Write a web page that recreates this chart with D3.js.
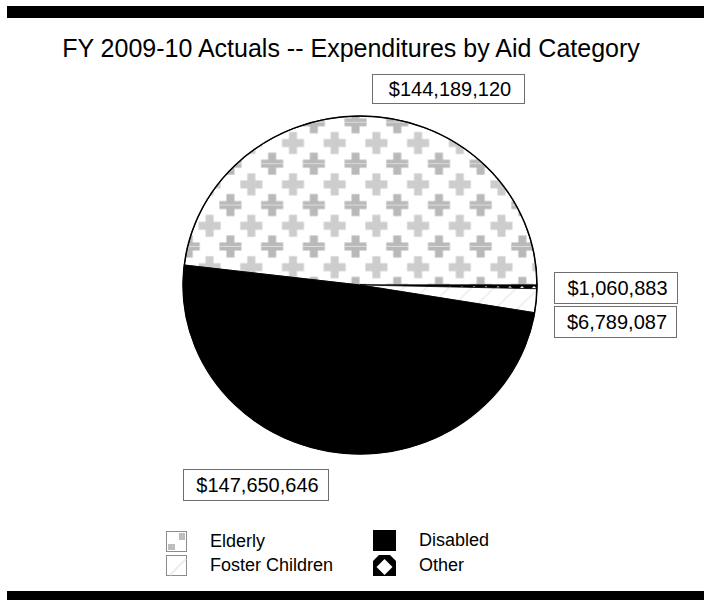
<!DOCTYPE html>
<html>
<head>
<meta charset="utf-8">
<script src="https://cdn.jsdelivr.net/npm/d3@7"></script>
<style>
  html, body { margin: 0; padding: 0; background: #fff; }
  svg { display: block; font-family: Arial, "Liberation Sans", sans-serif; }
</style>
</head>
<body>
<svg id="chart" width="704" height="600"></svg>
<script>
// Expenditures by aid category, FY 2009-10 actuals (dollars)
const categories = ["Elderly", "Other", "Foster Children", "Disabled"];
const values = [144189120, 1060883, 6789087, 147650646];
const legendOrder = ["Elderly", "Foster Children", "Disabled", "Other"];
const titleText = "FY 2009-10 Actuals -- Expenditures by Aid Category";

const svg = d3.select("#chart");
const W = 704, H = 600;

// Pie geometry (drawn slightly flattened)
const cx = 360, cy = 285, R = 177, RY = 169;
const squash = RY / R;

// ---------- patterns ----------
const defs = svg.append("defs");

// Elderly: staggered grey crosses on white
const tileW = 41.7, tileH = 41.4;
const crossSize = 22, arm = 8;
const pEld = defs.append("pattern")
  .attr("id", "pat-elderly")
  .attr("patternUnits", "userSpaceOnUse")
  .attr("width", tileW).attr("height", tileH)
  .attr("x", -77.4).attr("y", -152.35)
  .attr("patternTransform", `scale(1,${1 / squash})`);
pEld.append("rect").attr("width", tileW).attr("height", tileH).attr("fill", "#fff");
function addCross(p, x, y, color, stripe) {
  const h = crossSize / 2, a = arm / 2;
  // draw wrapped copies so crosses on the tile edge stay whole
  for (const dx of [-tileW, 0, tileW]) {
    for (const dy of [-tileH, 0, tileH]) {
      p.append("rect").attr("x", x + dx - h).attr("y", y + dy - a).attr("width", crossSize).attr("height", arm).attr("fill", color);
      p.append("rect").attr("x", x + dx - a).attr("y", y + dy - h).attr("width", arm).attr("height", crossSize).attr("fill", color);
      if (stripe) {
        p.append("rect").attr("x", x + dx - h).attr("y", y + dy - 0.6).attr("width", crossSize).attr("height", 1).attr("fill", stripe);
      }
    }
  }
}
addCross(pEld, 10.4, 10.35, "#cdcdcd", null);
addCross(pEld, 31.25, 31.05, "#b9b9b9", "#dedede");

// Foster Children: faint diagonal hatching on white
const pFos = defs.append("pattern")
  .attr("id", "pat-foster")
  .attr("patternUnits", "userSpaceOnUse")
  .attr("width", 16).attr("height", 16)
  .attr("patternTransform", "rotate(45)");
pFos.append("rect").attr("width", 16).attr("height", 16).attr("fill", "#fff");
pFos.append("rect").attr("x", 0).attr("y", 0).attr("width", 2).attr("height", 16).attr("fill", "#f0f0f0");

// Other: white diamonds on black
const pOth = defs.append("pattern")
  .attr("id", "pat-other")
  .attr("patternUnits", "userSpaceOnUse")
  .attr("width", 12).attr("height", 12);
pOth.append("rect").attr("width", 12).attr("height", 12).attr("fill", "#000");
pOth.append("path").attr("d", "M6,1 L11,6 L6,11 L1,6 Z").attr("fill", "#fff");

const fills = {
  "Elderly": "url(#pat-elderly)",
  "Other": "url(#pat-other)",
  "Foster Children": "url(#pat-foster)",
  "Disabled": "#000"
};

// ---------- frame bars and title ----------
svg.append("rect").attr("x", 7).attr("y", 6).attr("width", W - 7).attr("height", 12).attr("fill", "#000");
svg.append("rect").attr("x", 7).attr("y", 591).attr("width", W - 7).attr("height", 9).attr("fill", "#000");

svg.append("text")
  .attr("x", 351).attr("y", 57)
  .attr("text-anchor", "middle")
  .attr("font-size", 25)
  .attr("fill", "#000")
  .text(titleText);

// ---------- pie ----------
const total = d3.sum(values);
const startAngle = Math.PI / 2 - 2 * Math.PI * values[0] / total;
const pie = d3.pie()
  .sort(null)
  .value(d => d.value)
  .startAngle(startAngle)
  .endAngle(startAngle + 2 * Math.PI);
const slices = pie(categories.map((c, i) => ({ category: c, value: values[i] })));
const arc = d3.arc().innerRadius(0).outerRadius(R);

const g = svg.append("g").attr("transform", `translate(${cx},${cy}) scale(1,${squash})`);
g.selectAll("path.slice")
  .data(slices)
  .join("path")
  .attr("class", "slice")
  .attr("d", arc)
  .attr("fill", d => fills[d.data.category])
  .attr("stroke", "#000")
  .attr("stroke-width", 0.8)
  .attr("vector-effect", "non-scaling-stroke");

g.append("circle")
  .attr("r", R)
  .attr("fill", "none")
  .attr("stroke", "#000")
  .attr("stroke-width", 1.5)
  .attr("vector-effect", "non-scaling-stroke");

// ---------- value labels ----------
const fmt = d3.format("$,");
const labelBoxes = {
  "Elderly":         { x: 372, y: 74,  w: 152, h: 29 },
  "Other":           { x: 554, y: 272, w: 123, h: 31 },
  "Foster Children": { x: 554, y: 306, w: 122, h: 31 },
  "Disabled":        { x: 183, y: 469, w: 145, h: 31 }
};
const lab = svg.append("g").selectAll("g")
  .data(slices)
  .join("g")
  .attr("transform", d => `translate(${labelBoxes[d.data.category].x},${labelBoxes[d.data.category].y})`);
lab.append("rect")
  .attr("x", 0.5).attr("y", 0.5)
  .attr("width", d => labelBoxes[d.data.category].w)
  .attr("height", d => labelBoxes[d.data.category].h)
  .attr("fill", "#fff")
  .attr("stroke", "#6e6e6e")
  .attr("stroke-width", 1);
lab.append("text")
  .attr("x", d => labelBoxes[d.data.category].w / 2 + 2)
  .attr("y", d => labelBoxes[d.data.category].h / 2 + 7.5)
  .attr("text-anchor", "middle")
  .attr("font-size", 20)
  .attr("fill", "#000")
  .text(d => fmt(d.data.value));

// ---------- legend ----------
const legendPos = {
  "Elderly":         { x: 166, y: 531 },
  "Foster Children": { x: 166, y: 555 },
  "Disabled":        { x: 373, y: 530 },
  "Other":           { x: 373, y: 555 }
};
const sw = 21;
const leg = svg.append("g").selectAll("g")
  .data(legendOrder)
  .join("g")
  .attr("transform", d => `translate(${legendPos[d].x},${legendPos[d].y})`);

leg.each(function (d) {
  const s = d3.select(this);
  if (d === "Elderly") {
    s.append("rect").attr("x", 0.5).attr("y", 0.5).attr("width", sw - 1).attr("height", sw - 1)
      .attr("fill", "#fff").attr("stroke", "#8c8c8c");
    s.append("rect").attr("x", 13).attr("y", 2).attr("width", 6).attr("height", 7).attr("fill", "#bdbdbd");
    s.append("rect").attr("x", 2).attr("y", 13).attr("width", 7).attr("height", 6).attr("fill", "#bdbdbd");
  } else if (d === "Foster Children") {
    s.append("rect").attr("x", 0.5).attr("y", 0.5).attr("width", sw - 1).attr("height", sw - 1)
      .attr("fill", "#fff").attr("stroke", "#8c8c8c");
    s.append("path").attr("d", `M4,${sw - 1} L${sw - 1},4`).attr("stroke", "#ececec").attr("stroke-width", 2);
  } else if (d === "Disabled") {
    s.append("rect").attr("width", sw + 2).attr("height", sw).attr("fill", "#000");
  } else {
    const clipId = "clip-other-swatch";
    s.append("clipPath").attr("id", clipId)
      .append("rect").attr("width", sw + 2).attr("height", sw);
    const cg = s.append("g").attr("clip-path", `url(#${clipId})`);
    cg.append("rect").attr("width", sw + 2).attr("height", sw).attr("fill", "#000");
    cg.append("path").attr("d", "M11.5,4 L19.5,12 L11.5,20 L3.5,12 Z").attr("fill", "#fff");
    cg.append("path").attr("d", "M0,-6 L6,0 L0,6 L-6,0 Z").attr("fill", "#fff");
    cg.append("path").attr("d", "M23,-6 L29,0 L23,6 L17,0 Z").attr("fill", "#fff");
  }
});

leg.append("text")
  .attr("x", d => (d === "Elderly" || d === "Foster Children") ? 44 : 46)
  .attr("y", 16)
  .attr("font-size", 18)
  .attr("fill", "#000")
  .text(d => d);
</script>
</body>
</html>
